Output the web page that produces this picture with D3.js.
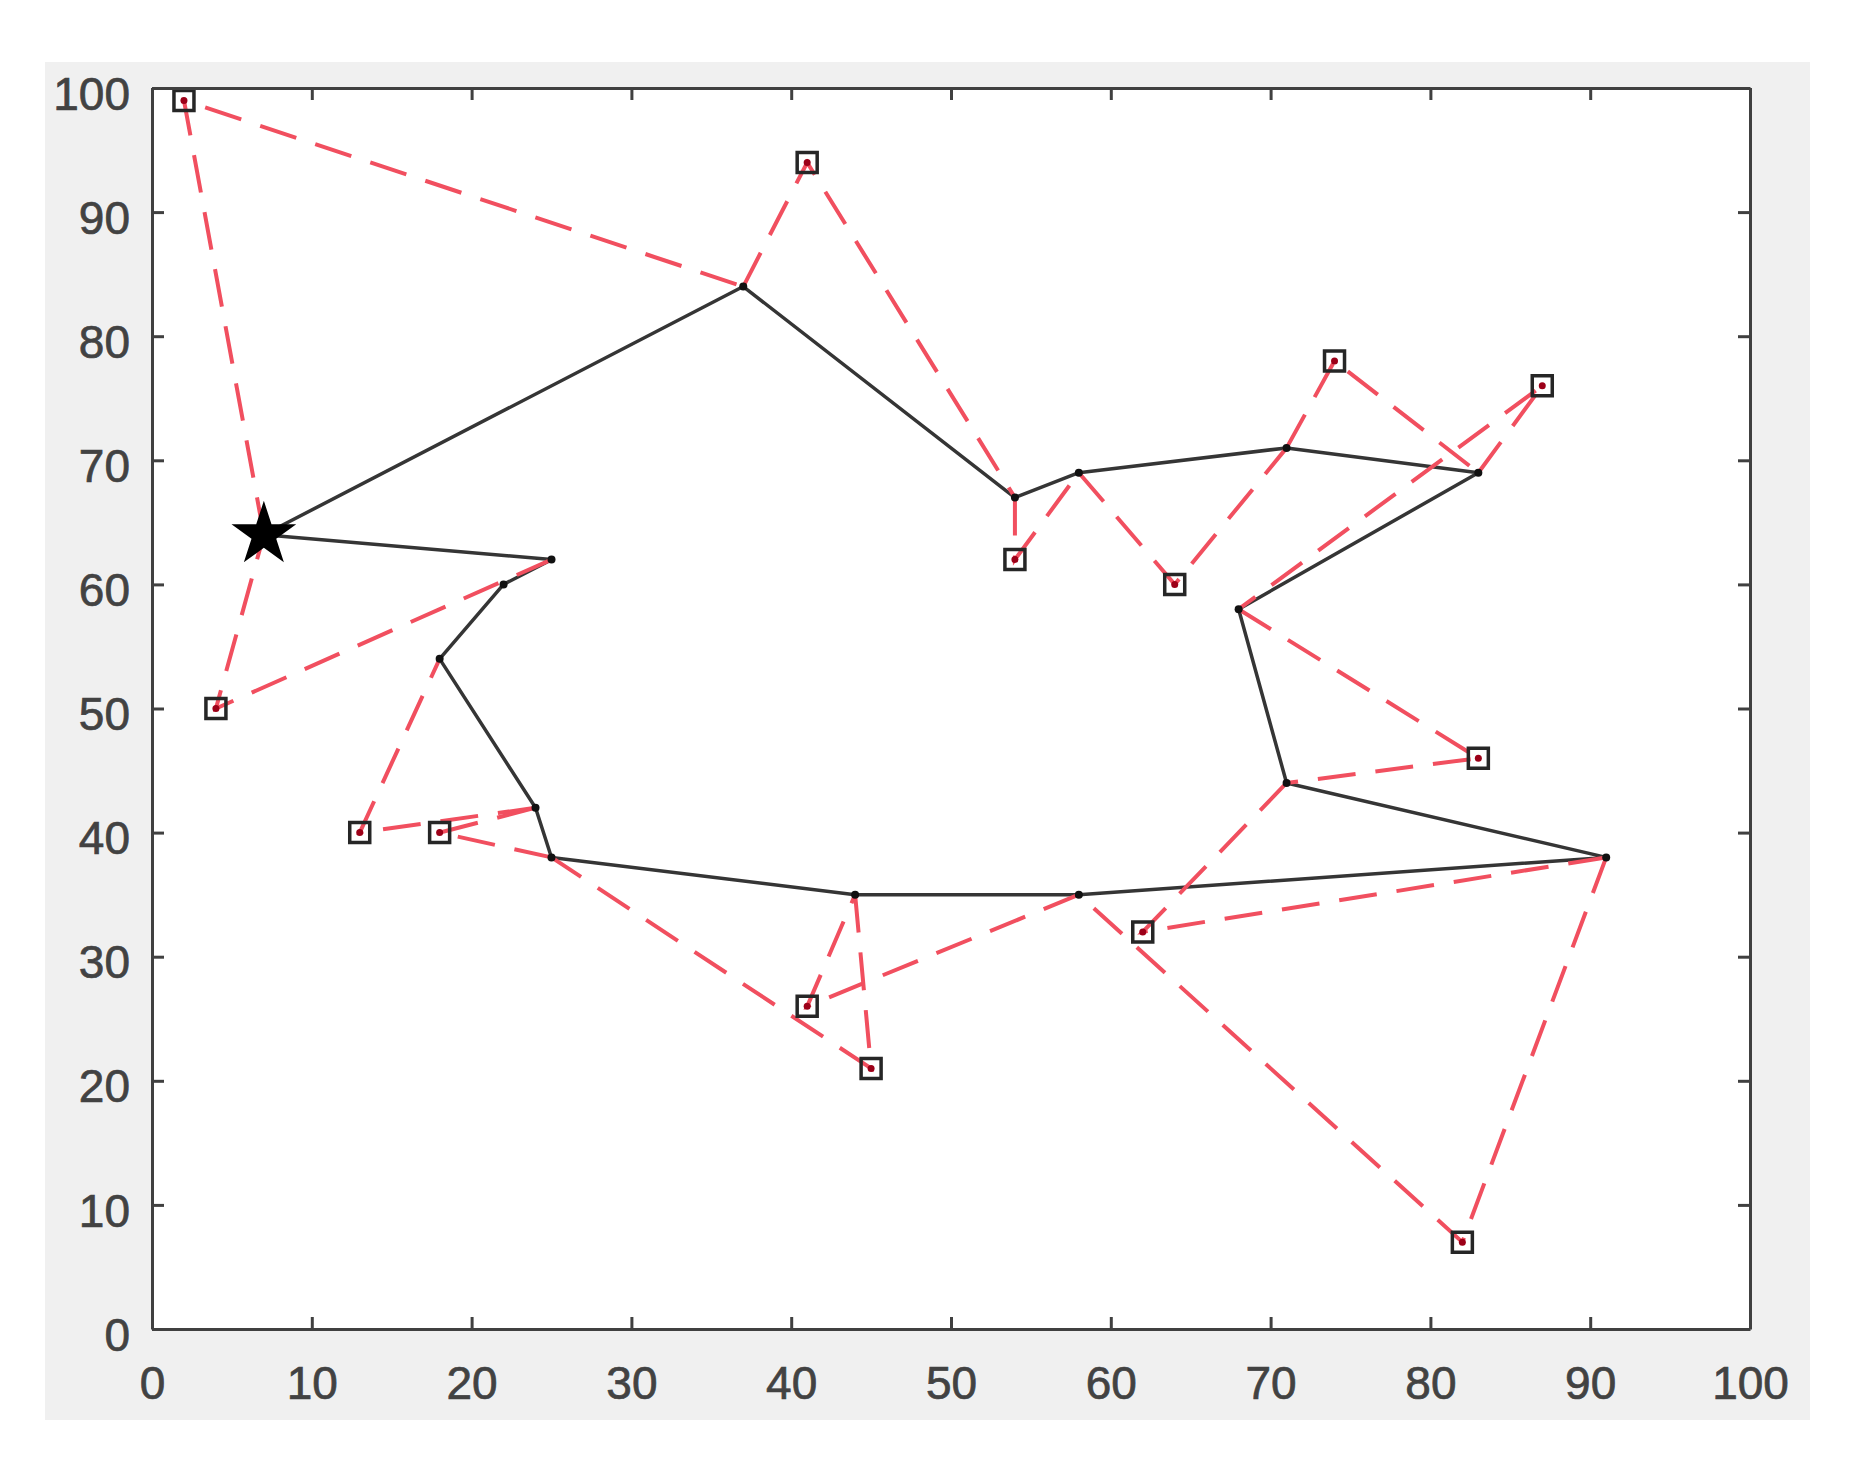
<!DOCTYPE html>
<html>
<head>
<meta charset="utf-8">
<script src="https://cdn.jsdelivr.net/npm/d3@7"></script>
<style>
    body { margin: 0; background: #fff; }
    #route_plot { width: 1857px; height: 1462px; }
    .tick text {
        font-family: "Liberation Sans", Arial, sans-serif;
        font-size: 46px;
        fill: #424242;
        stroke: #424242;
        stroke-width: 0.7px;
    }
</style>
</head>
<body>
<div id="route_plot"></div>
<script>
// truck route, starting at the depot (star)
var route_x = [7, 37, 54, 58, 71, 83, 68, 71, 91, 58, 44, 25, 24, 18, 22, 25];
var route_y = [64, 84, 67, 69, 71, 69, 58, 44, 38, 35, 35, 38, 42, 54, 60, 62];

// customers served by the drone, with launch / landing stop on the route
var customer_x = [2, 41, 54, 64, 74, 87, 83, 62, 82, 41, 45, 18, 13, 4];
var customer_y = [99, 94, 62, 60, 78, 76, 46, 32, 7, 26, 21, 40, 40, 50];
var launch_stop = [0, 1, 2, 3, 4, 5, 6, 7, 8, 9, 10, 11, 12, 15];
var land_stop = [1, 2, 3, 4, 5, 6, 7, 8, 9, 10, 11, 12, 13, 0];

var x_ticks = [0, 10, 20, 30, 40, 50, 60, 70, 80, 90, 100];
var y_ticks = [0, 10, 20, 30, 40, 50, 60, 70, 80, 90, 100];

var full_width = 1857,
    full_height = 1462;

var margin = { top: 88, right: 107, bottom: 133, left: 152 };
var width = full_width - margin.left - margin.right;
var height = full_height - margin.top - margin.bottom;

var x = d3.scaleLinear()
    .domain([0, 100])
    .range([0, width]);

var y = d3.scaleLinear()
    .domain([0, 100])
    .range([height, 0]);

var svg = d3.select("#route_plot")
    .append("svg")
    .attr("width", full_width)
    .attr("height", full_height);

// figure background
svg.append("rect")
    .attr("x", 45)
    .attr("y", 62)
    .attr("width", 1765)
    .attr("height", 1358)
    .attr("fill", "#f0f0f0");

var g = svg.append("g")
    .attr("transform", "translate(" + margin.left + "," + margin.top + ")");

g.append("rect")
    .attr("width", width)
    .attr("height", height)
    .attr("fill", "#fff");

// truck route
var route_line = d3.line()
    .x(function(i) { return x(route_x[i]); })
    .y(function(i) { return y(route_y[i]); });

var route_order = d3.range(route_x.length).concat([0]);

g.append("path")
    .attr("d", route_line(route_order))
    .attr("fill", "none")
    .attr("stroke", "#353535")
    .attr("stroke-width", 3.5)
    .attr("stroke-linejoin", "round");

// drone sorties
var sortie_line = d3.line()
    .x(function(d) { return x(d[0]); })
    .y(function(d) { return y(d[1]); });

g.selectAll(".sortie")
    .data(customer_x)
    .enter()
    .append("path")
    .attr("class", "sortie")
    .attr("d", function(d, i) {
        var a = launch_stop[i], b = land_stop[i];
        return sortie_line([
            [route_x[a], route_y[a]],
            [customer_x[i], customer_y[i]],
            [route_x[b], route_y[b]]
        ]);
    })
    .attr("fill", "none")
    .attr("stroke", "#f14f5f")
    .attr("stroke-width", 4)
    .attr("stroke-dasharray", "38,20");

// route stops
g.selectAll(".stop")
    .data(route_x.slice(1))
    .enter()
    .append("circle")
    .attr("class", "stop")
    .attr("cx", function(d) { return x(d); })
    .attr("cy", function(d, i) { return y(route_y[i + 1]); })
    .attr("r", 4)
    .attr("fill", "#111");

// customers
g.selectAll(".customer")
    .data(customer_x)
    .enter()
    .append("path")
    .attr("class", "customer")
    .attr("d", d3.symbol(d3.symbolSquare, 400))
    .attr("transform", function(d, i) {
        return "translate(" + x(d) + "," + y(customer_y[i]) + ")";
    })
    .attr("fill", "none")
    .attr("stroke", "#262626")
    .attr("stroke-width", 3.5);

g.selectAll(".customer_dot")
    .data(customer_x)
    .enter()
    .append("circle")
    .attr("class", "customer_dot")
    .attr("cx", function(d) { return x(d); })
    .attr("cy", function(d, i) { return y(customer_y[i]); })
    .attr("r", 3.5)
    .attr("fill", "#9c0018");

// depot
g.append("path")
    .attr("d", d3.symbol(d3.symbolStar, 1300))
    .attr("transform", "translate(" + x(route_x[0]) + "," + y(route_y[0]) + ")")
    .attr("fill", "#000");

// axes (box, ticks pointing inward)
var xAxis = g.append("g")
    .attr("transform", "translate(0," + height + ")")
    .call(d3.axisBottom(x).tickValues(x_ticks).tickSizeInner(-12).tickSizeOuter(0).tickPadding(37));

var yAxis = g.append("g")
    .call(d3.axisLeft(y).tickValues(y_ticks).tickSizeInner(-12).tickSizeOuter(0).tickPadding(22));

var topAxis = g.append("g")
    .call(d3.axisTop(x).tickValues(x_ticks).tickSizeInner(-12).tickSizeOuter(0).tickFormat(""));

var rightAxis = g.append("g")
    .attr("transform", "translate(" + width + ",0)")
    .call(d3.axisRight(y).tickValues(y_ticks).tickSizeInner(-12).tickSizeOuter(0).tickFormat(""));

yAxis.selectAll("text").attr("dy", "0.46em");

g.selectAll(".domain, .tick line")
    .attr("stroke", "#404040")
    .attr("stroke-width", 3);
</script>
</body>
</html>
